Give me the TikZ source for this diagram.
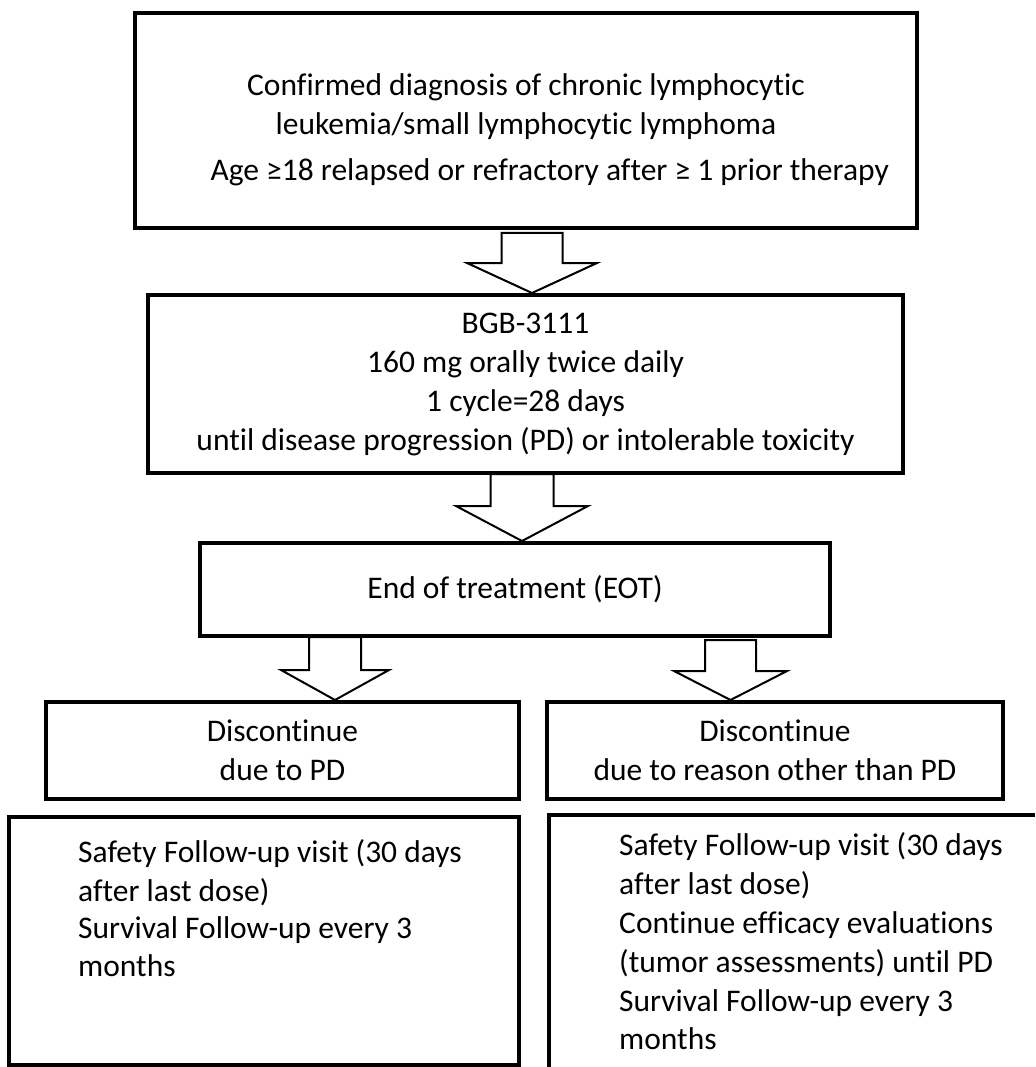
\documentclass[tikz,border=0pt]{standalone}
\usepackage{fontspec}
\setmainfont{Carlito}[Numbers=Lining, RawFeature={-liga,-clig,-dlig}]
\usetikzlibrary{calc}

\def\mytextsize{\fontsize{31.5}{39}\selectfont}
\def\myboxwidth{4pt}
\def\mytopstrut{\rule{0pt}{40pt}}

\tikzset{
  stepbox/.style = {draw, rectangle, line width=\myboxwidth, align=center, inner sep=0pt, font=\mytextsize},
  followtext/.style = {align=left, inner sep=0pt, anchor=north west, font=\mytextsize},
  fatline/.style = {line width=2pt, line join=miter}
}

% hollow block arrow: #1 start, #2 target node, #3 half shaft, #4 half head, #5 head length
\newcommand{\fatarrow}[5]{%
  \draw[fatline] ($(#1)+(-#3,0)$) -- ($(#2.north -| #1)+(-#3,-#5)$) -- ($(#2.north -| #1)+(-#4,-#5)$)
    -- (#2.north -| #1) -- ($(#2.north -| #1)+(#4,-#5)$) -- ($(#2.north -| #1)+(#3,-#5)$) -- ($(#1)+(#3,0)$) -- cycle;
}

\begin{document}
\begin{tikzpicture}[x=1pt, y=-1pt]
\useasboundingbox (0,0) rectangle (1035,1067);

%\tikzstyle{every node} = [font = \small]
\node[stepbox, minimum width=782pt, minimum height=215pt] (diag) at (526,120.5)
  {\mytopstrut Confirmed diagnosis of chronic lymphocytic\\leukemia/small lymphocytic lymphoma\\[7pt]\hspace*{1.5em}Age ≥18 relapsed or refractory after ≥ 1 prior therapy};
\node[stepbox, minimum width=755pt, minimum height=178pt] (bgb) at (525.5,384)
  {BGB-3111\\160 mg orally twice daily\\1 cycle=28 days\\until disease progression (PD) or intolerable toxicity};
\node[stepbox, minimum width=630pt, minimum height=93pt] (eot) at (515,589.5) {End of treatment (EOT)};
\node[stepbox, minimum width=473pt, minimum height=97pt] (pd) at (282.5,750.5) {Discontinue\\due to PD};
\node[stepbox, minimum width=456pt, minimum height=97pt] (other) at (775,750.5) {Discontinue\\due to reason other than PD};

% follow-up boxes
\node[stepbox, minimum width=510pt, minimum height=248pt, anchor=north west] (pdup) at (7,815) {};
\node[followtext] (pduptext) at ($(pdup.north west)+(71,24)$)
  {Safety Follow-up visit (30 days\\after last dose)\\[-1.5pt]Survival Follow-up every 3\\[-1.5pt]months};
\coordinate (otherup) at (549,815);
\draw[line width=\myboxwidth] (1035,815) -- (otherup) -- (549,1067); % runs off the page
\node[followtext] (otheruptext) at ($(otherup)+(70,17)$)
  {Safety Follow-up visit (30 days\\after last dose)\\Continue efficacy evaluations\\(tumor assessments) until PD\\Survival Follow-up every 3\\[-1pt]months};

% arrows
\coordinate (a1) at (532,233);
\coordinate (a2) at (522,474);
\coordinate (a3) at (335,637);
\coordinate (a4) at (730.5,640);
\foreach \src/\dst/\sh/\hd/\hl in {a1/bgb/30.5/65/30, a2/eot/31.5/66/35, a3/pd/26/54/30, a4/other/25.5/56.5/29}
{
  \fatarrow{\src}{\dst}{\sh}{\hd}{\hl}
}
\end{tikzpicture}
\end{document}
